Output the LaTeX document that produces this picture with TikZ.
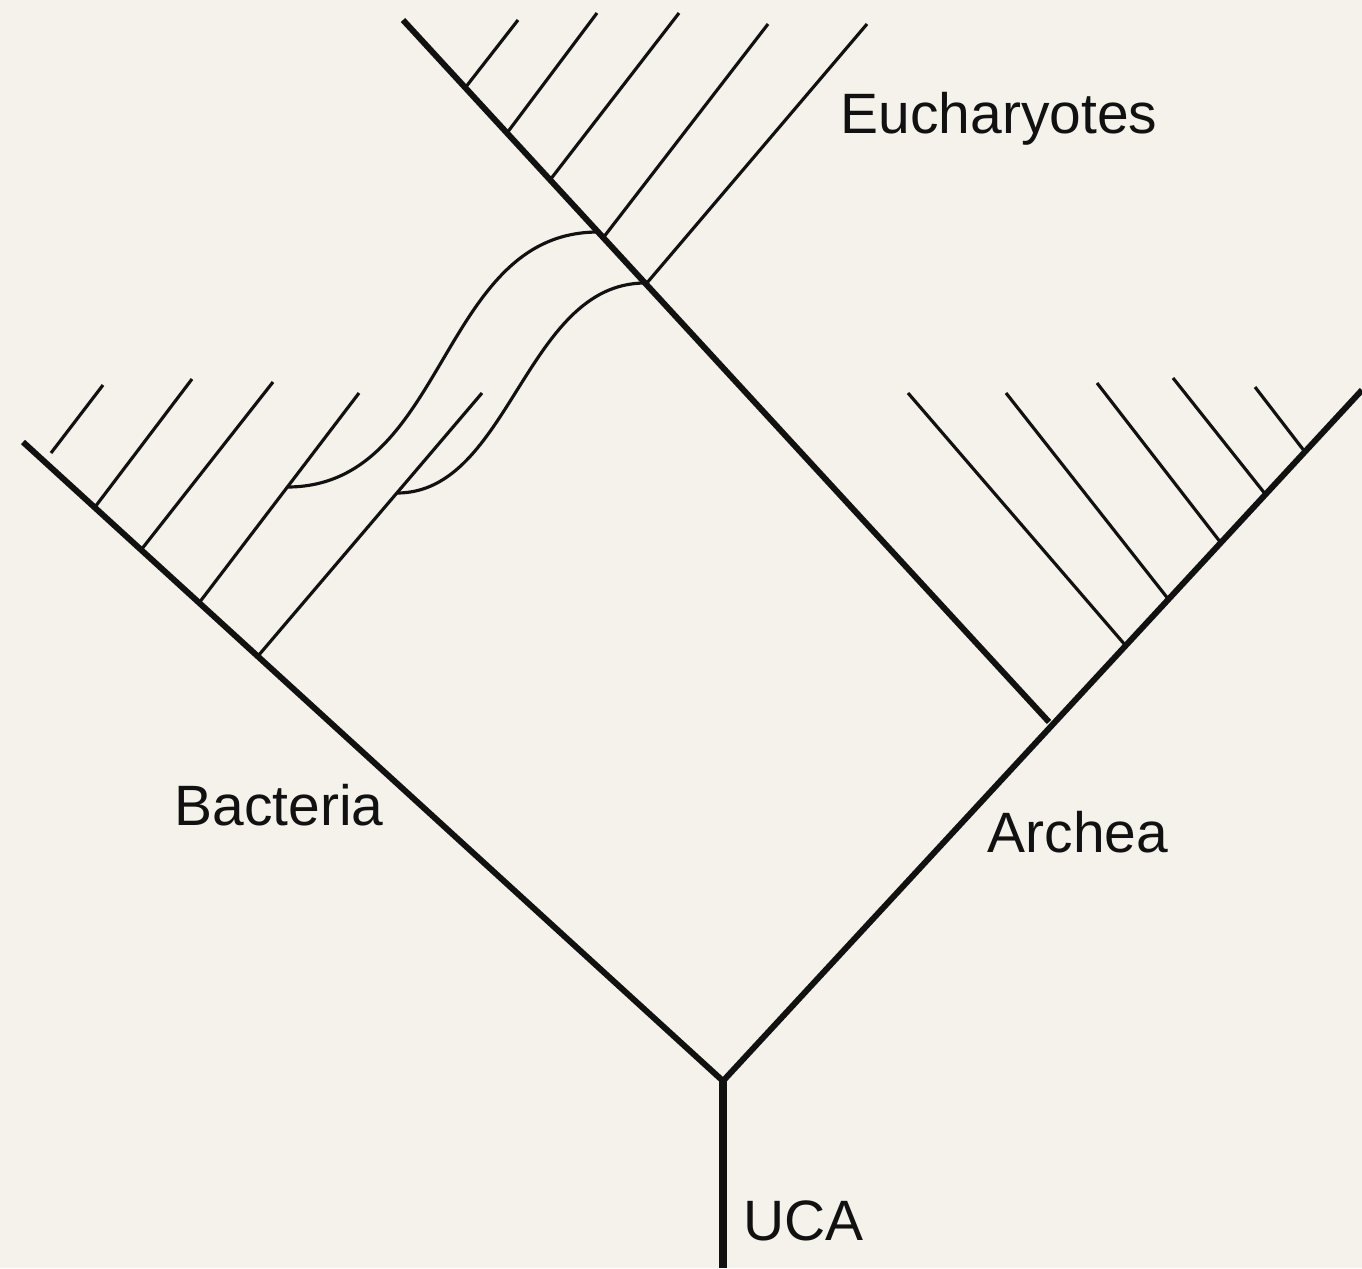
\documentclass[tikz,border=0pt]{standalone}
\usepackage{fontspec}
\setmainfont{Liberation Sans}
\usepackage{tikz}
\definecolor{paper}{HTML}{F4F2EA}
\definecolor{ink}{HTML}{111111}

\begin{document}
\begin{tikzpicture}[x=0.1mm,y=-0.1mm,
  trunk/.style={ink,line width=2.5pt},
  stem/.style={ink,line width=1.7pt},
  twig/.style={ink,line width=0.9pt},
  lbl/.style={anchor=base west,inner sep=0pt,text=ink,font=\fontsize{16.2}{19}\selectfont}]
  % page
  \fill[paper] (0,0) rectangle (1362,1268);
  \useasboundingbox (0,0) rectangle (1362,1268);
  % main lineages
  \coordinate (ucabot) at (723,1268);
  \coordinate (root) at (723,1081);
  \coordinate (bactip) at (23,442);
  \coordinate (arctip) at (1362,390);
  \coordinate (eukroot) at (1049,722);
  \coordinate (euktip) at (403,20);
  \draw[trunk] (ucabot) -- (root);
  \draw[stem] (bactip) -- (root) -- (arctip);
  \draw[stem] (eukroot) -- (euktip);
  % bacteria twigs
  \foreach \n/\xa/\ya/\xb/\yb in {1/51/453/103/385,2/95/507/192/379,3/141/550/273/382,4/199/603/359/393,5/258/656/482/393}{
    \coordinate (bacbot\n) at (\xa,\ya);
    \coordinate (bactop\n) at (\xb,\yb);
    \draw[twig] (bacbot\n) -- (bactop\n);
  }
  % archea twigs
  \foreach \n/\xa/\ya/\xb/\yb in {1/1305/452/1255/387,2/1266/495/1173/378,3/1221/543/1097/383,4/1169/600/1006/393,5/1126/646/908/393}{
    \coordinate (arcbot\n) at (\xa,\ya);
    \coordinate (arctop\n) at (\xb,\yb);
    \draw[twig] (arcbot\n) -- (arctop\n);
  }
  % eucharyote twigs
  \foreach \n/\xa/\ya/\xb/\yb in {1/465/88/518/20,2/507/133/597/13,3/550/180/679/13,4/603/238/768/24,5/646/284/867/24}{
    \coordinate (eukbot\n) at (\xa,\ya);
    \coordinate (euktop\n) at (\xb,\yb);
    \draw[twig] (eukbot\n) -- (euktop\n);
  }
  % endosymbioses
  \coordinate (endo1s) at (287,487);
  \coordinate (endo1e) at (598,232);
  \coordinate (endo2s) at (397,493);
  \coordinate (endo2e) at (645,283);
  \draw[twig] (endo1s) .. controls (448,487) and (438,232) .. (endo1e);
  \draw[twig] (endo2s) .. controls (510,493) and (525,283) .. (endo2e);
  % labels
  \node[lbl] (euk) at (840,133) {Eucharyotes};
  \node[lbl] (bac) at (174,825) {Bacteria};
  \node[lbl] (arc) at (987,852) {Archea};
  \node[lbl] (uca) at (743,1240) {UCA};
\end{tikzpicture}
\end{document}
